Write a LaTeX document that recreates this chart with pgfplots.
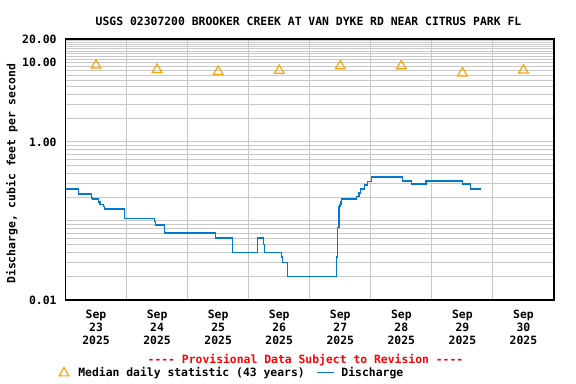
\documentclass[border=0pt]{standalone}
\usepackage{fontspec}
\setmainfont{DejaVu Sans Mono}
\usepackage{pgfplots}
\pgfplotsset{compat=1.18}
\definecolor{qblue}{RGB}{0,122,204}
\definecolor{qorange}{RGB}{255,165,0}
\definecolor{qgrid}{RGB}{200,200,200}
\newcommand\F{\fontsize{11.4bp}{13.1bp}\selectfont\bfseries}
\pgfplotsset{
  medleg/.style={legend image code/.code={\path[draw=none,fill=none] (0bp,0bp) rectangle (12bp,9bp); \draw[##1] plot coordinates {(6bp,3.9bp)};}},
  disleg/.style={legend image code/.code={\path[draw=none,fill=none] (0bp,0bp) rectangle (16.6bp,8bp); \draw[##1] (0bp,4.3bp) -- (16.6bp,4.3bp);}},
}
\begin{document}
\begin{tikzpicture}[font=\F]
\path[use as bounding box] (0bp,0bp) rectangle (576bp,384bp);
\begin{axis}[
  at={(65.5bp,84bp)}, anchor=south west,
  scale only axis, width=488.5bp, height=261bp,
  xmin=0, xmax=8,
  ymode=log, ymin=0.01, ymax=20,
  xtick={0.5,1.5,2.5,3.5,4.5,5.5,6.5,7.5},
  xticklabels={{Sep\\23\\2025},{Sep\\24\\2025},{Sep\\25\\2025},{Sep\\26\\2025},{Sep\\27\\2025},{Sep\\28\\2025},{Sep\\29\\2025},{Sep\\30\\2025}},
  minor xtick={1,2,3,4,5,6,7},
  ytick={0.01,1,10,20},
  yticklabels={0.01,1.00,10.00,20.00},
  minor ytick={0.02,0.03,0.04,0.05,0.06,0.07,0.08,0.09,0.1,0.2,0.3,0.4,0.5,0.6,0.7,0.8,0.9,2,3,4,5,6,7,8,9,11,12,13,14,15,16,17,18,19},
  xminorgrids, ymajorgrids, yminorgrids,
  grid style={qgrid, line width=1bp},
  minor grid style={qgrid, line width=1bp},
  major tick length=0pt, minor tick length=0pt,
  axis line style={black, line width=1.3bp},
  tick label style={font=\F},
  xticklabel style={anchor=north, inner sep=0pt, align=center, yshift=-10bp},
  yticklabel style={anchor=east, inner sep=0pt, xshift=-8.8bp},
  legend style={draw=none, fill=none, inner sep=0pt, outer sep=0pt,
    at={(axis description cs:-0.01535,-0.2950)}, anchor=south west,
    cells={anchor=base west}, nodes={inner sep=0pt, outer sep=0pt, text depth=0pt, font=\F},
    /tikz/column 1/.style={column sep=8.3bp},
    /tikz/column 2/.style={column sep=12bp},
    /tikz/column 3/.style={column sep=6.7bp}},
  legend columns=2,
]
\addplot[only marks, mark=triangle, mark size=5.6bp, qorange, mark options={line width=1.2bp}, medleg]
  coordinates {(0.5,9.3) (1.5,8.2) (2.5,7.75) (3.5,8.0) (4.5,9.1) (5.5,9.1) (6.5,7.4) (7.5,8.05)};
\addlegendentry{Median daily statistic (43 years)}
\addplot[const plot, qblue, line width=1.4bp, disleg]
  table {
x y
0.000 0.252
0.210 0.218
0.429 0.194
0.445 0.190
0.537 0.174
0.565 0.160
0.619 0.152
0.635 0.141
0.963 0.108
1.454 0.098
1.477 0.089
1.618 0.070
2.453 0.061
2.732 0.040
3.141 0.061
3.239 0.050
3.257 0.040
3.541 0.035
3.557 0.030
3.633 0.020
4.442 0.035
4.459 0.082
4.480 0.152
4.496 0.160
4.512 0.176
4.523 0.190
4.769 0.204
4.807 0.225
4.835 0.252
4.893 0.286
4.943 0.315
5.015 0.358
5.522 0.321
5.670 0.294
5.904 0.321
6.505 0.294
6.636 0.252
6.805 0.252
};
\addlegendentry{Discharge}
\end{axis}
\node[anchor=base] at (308.5bp,358bp) {USGS 02307200 BROOKER CREEK AT VAN DYKE RD NEAR CITRUS PARK FL};
\node[anchor=base, rotate=90] at (15.3bp,210.2bp) {Discharge, cubic feet per second};
\node[anchor=base, text=red] at (305.5bp,20.8bp) {{-}{-}{-}{-} Provisional Data Subject to Revision {-}{-}{-}{-}};
\end{tikzpicture}
\end{document}
